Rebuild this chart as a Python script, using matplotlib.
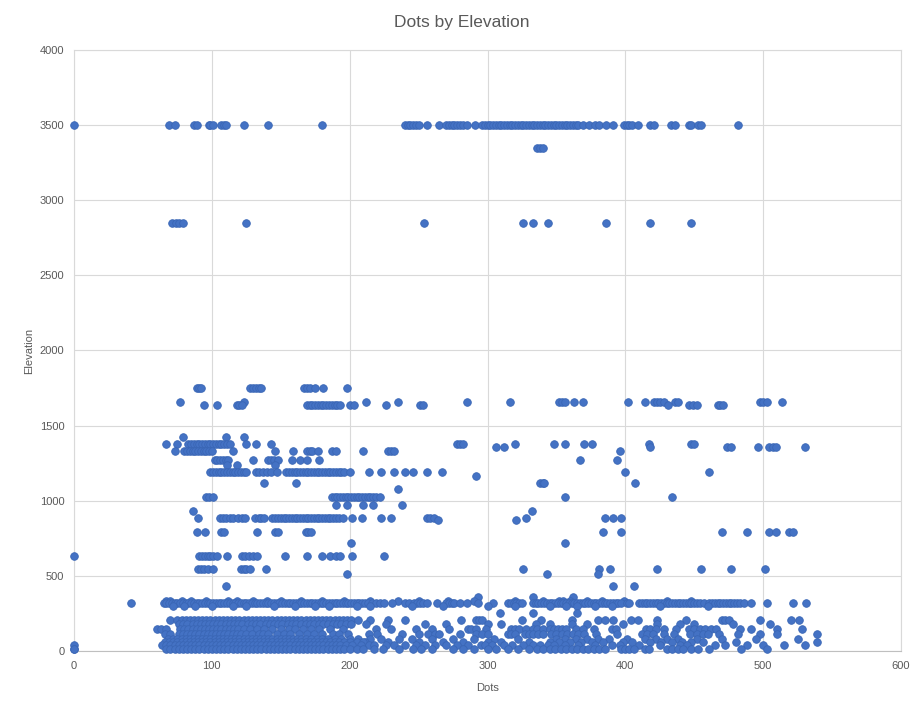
import matplotlib
matplotlib.use("Agg")
import matplotlib.pyplot as plt
import numpy as np

# ---------------- data (x = Dots, grouped by approximate Elevation level) ----------------
e3500_x = [0, 69, 73, 87, 89, 98, 99, 101, 107, 109, 110, 123, 141, 180, 240, 242, 244, 246, 248, 250,
           256, 265, 270, 272, 274, 276, 278, 280, 282, 285, 291, 296, 298, 300, 302, 304, 306, 308, 310,
           312, 314, 316, 318, 320, 322, 324, 326, 328, 330, 332, 334, 336, 338, 340, 342, 344, 346, 348,
           350, 352, 354, 356, 358, 360, 362, 364, 366, 369, 374, 378, 381, 386, 391, 399, 401, 403, 405,
           409, 418, 421, 433, 436, 446, 448, 453, 455, 482]
e3350_x = [336, 338, 340]
e2850_x = [71, 74, 76, 79, 125, 254, 326, 333, 344, 386, 418, 448]
e1750_x = [89, 91, 92, 128, 130, 132, 134, 136, 167, 169, 171, 175, 181, 198]
e1660_x = [77, 123, 212, 235, 285, 316, 352, 354, 356, 363, 369, 402, 414, 421, 423, 425, 428, 436,
           438, 498, 500, 503, 514]
e1635_x = [94, 104, 118, 120, 122, 169, 171, 173, 175, 177, 179, 181, 183, 185, 187, 189, 191, 193,
           200, 203, 226, 251, 253, 431, 446, 449, 452, 467, 469, 471]
e1425_x = [79, 110, 123]
e1378_x = [67, 75, 83, 85, 87, 89, 91, 93, 95, 97, 99, 101, 103, 105, 107, 109, 111, 113, 125, 132,
           143, 278, 280, 282, 320, 348, 356, 370, 376, 417, 448, 450]
e1358_x = [306, 312, 418, 474, 477, 496, 504, 507, 509, 530]
e1330_x = [73, 80, 82, 84, 86, 88, 90, 92, 94, 96, 98, 100, 115, 146, 159, 169, 171, 173, 177, 187,
           190, 210, 228, 230, 232, 396]
e1271_x = [102, 104, 106, 108, 110, 112, 130, 141, 143, 145, 148, 158, 164, 169, 178, 367, 394]
e1238_x = [111, 118, 146]
e1191_x = [99, 101, 103, 105, 107, 109, 111, 113, 115, 117, 119, 121, 123, 125, 132, 134, 137, 140,
           143, 147, 154, 156, 158, 160, 162, 164, 166, 168, 170, 172, 174, 176, 178, 180, 182, 184, 186,
           188, 190, 192, 194, 196, 200, 214, 223, 232, 240, 246, 256, 267, 400, 461]
e1165_x = [292]
e1118_x = [138, 161, 338, 340, 341, 407]
e1078_x = [235]
e1025_x = [96, 98, 101, 187, 189, 191, 193, 195, 197, 199, 201, 203, 205, 207, 209, 211, 213, 215,
           217, 219, 222, 356, 434]
e972_x = [190, 198, 210, 217, 238]
e930_x = [86, 332]
e885_x = [90, 106, 108, 110, 113, 115, 119, 122, 124, 131, 134, 136, 138, 144, 146, 148, 150, 152,
          154, 156, 158, 160, 162, 164, 166, 168, 170, 172, 174, 176, 178, 180, 182, 184, 186, 188, 190,
          192, 195, 202, 209, 223, 230, 256, 258, 261, 328, 385, 391, 397]
e870_x = [264, 321]
e792_x = [89, 95, 107, 109, 133, 146, 148, 168, 170, 172, 384, 397, 470, 488, 504, 509, 519, 522]
e719_x = [201, 356]
e632_x = [0, 91, 93, 95, 97, 99, 101, 104, 111, 122, 124, 127, 130, 133, 153, 169, 180, 186, 190,
          193, 202, 225]
e546_x = [90, 92, 94, 97, 101, 121, 123, 125, 128, 139, 326, 381, 389, 423, 455, 477, 501]
e510_x = [198, 343, 380]
e430_x = [110, 391, 406]
e360_x = [293, 333, 362]

# band around 300-340
e335_x = [67, 70, 78, 85, 96, 112, 118, 130, 140, 150, 165, 180, 196, 215, 235, 250, 271, 290, 320,
          340, 352, 355, 360, 372, 383, 399, 430, 448]
e318_x = [41, 65, 67, 69, 71, 73, 75, 77, 79, 81, 83, 85, 87, 89, 91, 93, 95, 97, 99, 101, 103, 105,
          107, 109, 111, 113, 115, 117, 119, 121, 123, 125, 127, 129, 131, 133, 135, 137, 139, 141, 143,
          145, 147, 149, 151, 153, 155, 157, 159, 161, 163, 165, 167, 169, 171, 173, 175, 177, 179, 181,
          183, 185, 187, 189, 191, 193, 195, 197, 199, 201, 203, 205, 207, 209, 211, 213, 216, 219, 222,
          225, 231, 240, 243, 247, 249, 251, 253, 256, 263, 270, 272, 274, 276, 280, 285, 293, 304, 315,
          317, 319, 321, 323, 325, 333, 335, 337, 339, 341, 343, 345, 347, 349, 351, 353, 355, 357, 359,
          361, 363, 365, 367, 369, 371, 373, 375, 377, 379, 381, 383, 385, 387, 389, 391, 393, 395, 397,
          401, 403, 410, 412, 414, 416, 418, 420, 422, 424, 426, 428, 430, 432, 434, 436, 438, 440, 442,
          444, 446, 448, 450, 452, 454, 457, 461, 463, 465, 467, 469, 471, 473, 475, 477, 479, 481, 483,
          486, 491, 503, 522, 531]
e300_x = [72, 80, 88, 100, 115, 125, 145, 160, 175, 185, 205, 215, 245, 268, 300, 320, 345, 357, 365,
          378, 390, 425, 460]
e250_x = [309, 333, 365]

# dense low-elevation rows
e205_x = [70, 75, 78, 81, 84, 87, 90, 93, 96, 99, 102, 105, 108, 111, 114, 117, 120, 123, 126, 129,
          132, 135, 138, 141, 144, 147, 150, 153, 156, 159, 162, 165, 168, 171, 174, 177, 180, 183, 186,
          189, 192, 195, 198, 201, 206, 215, 228, 240, 281, 292, 294, 296, 325, 339, 361, 380, 385, 391,
          404, 409, 423, 444, 470, 472, 475, 498, 520, 526]
e178_x = [76, 79, 82, 86, 89, 92, 95, 98, 101, 104, 107, 110, 113, 116, 119, 122, 126, 129, 132, 135,
          139, 142, 145, 148, 151, 155, 158, 161, 165, 168, 171, 174, 178, 181, 184, 188, 191, 194, 197,
          201, 212, 226, 255, 270, 300, 310, 335, 345, 361, 372, 398, 423, 440, 450, 478, 505]
e145_x = [60, 63, 67, 77, 80, 83, 86, 89, 92, 95, 98, 101, 104, 107, 110, 113, 116, 119, 123, 128,
          133, 138, 144, 150, 156, 160, 166, 172, 178, 186, 195, 219, 230, 248, 260, 272, 286, 288, 292,
          299, 317, 320, 323, 328, 333, 336, 340, 345, 348, 351, 354, 357, 364, 369, 377, 390, 393, 415,
          418, 422, 428, 437, 446, 450, 454, 458, 462, 466, 483, 491, 510, 528]
e112_x = [66, 70, 76, 79, 82, 85, 88, 91, 94, 97, 100, 103, 106, 109, 112, 115, 118, 121, 125, 129,
          134, 137, 141, 147, 152, 157, 163, 169, 174, 180, 188, 192, 199, 214, 220, 238, 250, 257, 262,
          265, 280, 292, 296, 300, 315, 317, 320, 327, 330, 333, 337, 340, 346, 350, 354, 358, 362, 366,
          370, 379, 394, 412, 416, 420, 428, 435, 447, 452, 456, 460, 468, 482, 498, 510, 539]
e80_x = [68, 72, 75, 78, 81, 84, 87, 90, 93, 96, 99, 102, 105, 108, 111, 114, 117, 120, 123, 126, 129,
         132, 135, 138, 141, 144, 147, 150, 153, 156, 159, 162, 165, 168, 172, 176, 180, 184, 189, 194,
         200, 206, 215, 223, 236, 245, 260, 275, 290, 305, 322, 350, 356, 364, 372, 380, 388, 401,
         414, 422, 430, 438, 452, 470, 495, 525]
e60_x = [66, 69, 72, 75, 78, 81, 84, 87, 90, 93, 96, 99, 102, 105, 108, 111, 114, 117, 120, 123, 126,
         129, 132, 135, 138, 141, 144, 147, 150, 153, 156, 159, 162, 165, 168, 171, 174, 177, 180, 183,
         186, 189, 192, 196, 200, 205, 211, 210, 228, 250, 268, 282, 300, 310, 330, 345, 352, 360, 368,
         376, 384, 398, 405, 418, 426, 434, 441, 448, 456, 480, 539]
e38_x = [0, 64, 67, 70, 73, 76, 79, 82, 85, 88, 91, 94, 97, 100, 103, 106, 109, 112, 115, 118, 121,
         124, 127, 130, 133, 136, 139, 142, 145, 148, 151, 154, 157, 160, 163, 166, 169, 172, 175, 178,
         181, 184, 187, 190, 193, 197, 202, 208, 214, 218, 226, 232, 240, 248, 255, 262, 270, 278, 286,
         295, 298, 303, 312, 318, 326, 333, 338, 344, 348, 356, 366, 378, 390, 396, 410, 425, 440, 445,
         465, 472, 488, 500, 515, 530]
e12_x = [0, 0, 67, 70, 73, 76, 79, 82, 85, 88, 91, 94, 97, 100, 103, 106, 109, 112, 115, 118, 121,
         124, 127, 130, 133, 136, 139, 142, 145, 148, 151, 154, 157, 160, 163, 166, 169, 172, 175, 178,
         181, 184, 187, 190, 193, 196, 200, 205, 210, 218, 224, 236, 246, 252, 260, 275, 282, 290, 300,
         306, 315, 322, 330, 336, 340, 345, 349, 353, 357, 361, 365, 369, 373, 377, 381, 385, 397, 400,
         403, 406, 414, 417, 430, 434, 438, 442, 448, 453, 461, 484, 503]

levels = [
    (3500, e3500_x), (3350, e3350_x), (2850, e2850_x), (1750, e1750_x), (1660, e1660_x),
    (1635, e1635_x), (1425, e1425_x), (1378, e1378_x), (1358, e1358_x), (1330, e1330_x),
    (1271, e1271_x), (1238, e1238_x), (1191, e1191_x), (1165, e1165_x), (1118, e1118_x),
    (1078, e1078_x), (1025, e1025_x), (972, e972_x), (930, e930_x), (885, e885_x), (870, e870_x),
    (792, e792_x), (719, e719_x), (632, e632_x), (546, e546_x), (510, e510_x), (430, e430_x),
    (360, e360_x), (335, e335_x), (318, e318_x), (300, e300_x), (250, e250_x), (205, e205_x),
    (178, e178_x), (145, e145_x), (112, e112_x), (80, e80_x), (60, e60_x), (38, e38_x), (12, e12_x),
]

xs, ys = [], []
for yv, xl in levels:
    xs.extend(xl)
    ys.extend([yv] * len(xl))

# ---------------- figure ----------------
plt.rcParams['font.family'] = ['Liberation Sans', 'DejaVu Sans']
fig = plt.figure(figsize=(9.24, 7.10), dpi=100)
ax = fig.add_axes([0.0801, 0.0831, 0.8950, 0.8465])

ax.scatter(xs, ys, s=30, facecolor='#4472C4', edgecolor='#3A66B5', linewidth=0.6, zorder=3,
           clip_on=False)

ax.set_xlim(0, 600)
ax.set_ylim(0, 4000)
ax.set_xticks(np.arange(0, 601, 100))
ax.set_yticks(np.arange(0, 4001, 500))
ax.grid(True, color='#D9D9D9', linewidth=0.8)
ax.set_axisbelow(True)
for sp in ax.spines.values():
    sp.set_color('#D9D9D9')
    sp.set_linewidth(0.8)
ax.spines['bottom'].set_color('#BFBFBF')
ax.tick_params(length=0, labelsize=8, colors='#595959', pad=7)

fig.text(0.5, 1 - 23 / 710, 'Dots by Elevation', fontsize=12.5, color='#595959',
         ha='center', va='center')
ax.set_xlabel('Dots', fontsize=8, color='#595959', labelpad=9)
ax.set_ylabel('Elevation', fontsize=8, color='#595959', labelpad=4)

fig.savefig('out.png', dpi=100)
